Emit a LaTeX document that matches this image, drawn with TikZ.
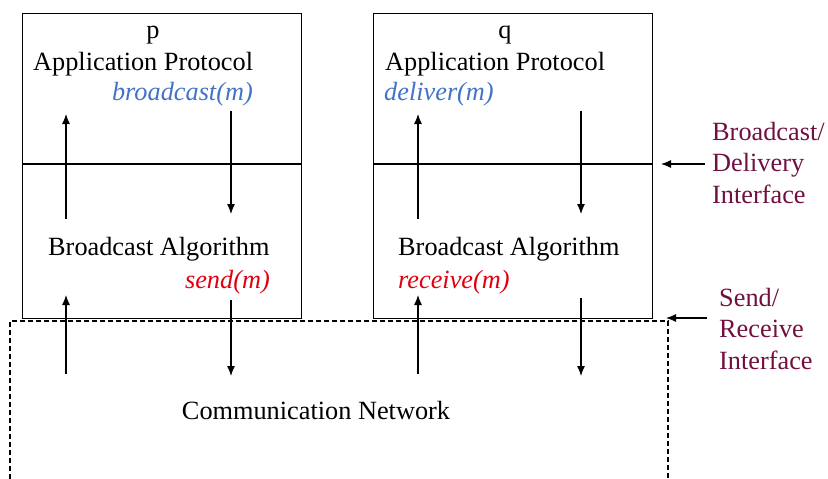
\documentclass[tikz,border=0pt]{standalone}
\usepackage{fontspec}
\setmainfont{Liberation Serif}
\usetikzlibrary{positioning,arrows.meta}

\definecolor{callblue}{RGB}{68,114,196}
\definecolor{callred}{RGB}{224,0,16}
\definecolor{ifmaroon}{RGB}{112,16,64}

\begin{document}
\fontsize{26.3}{31.5}\selectfont
\begin{tikzpicture}[x=1pt, y=-1pt,
    msg/.style={-{Latex[length=10pt,width=8pt]}, line width=1.2pt},
    proc/.style={rectangle, draw, line width=1.4pt, minimum width=279pt, minimum height=305pt, anchor=north west},
    lbl/.style={inner sep=0pt},
  ]
    \useasboundingbox (0,0) rectangle (828,479);

    %% process p
    \node[proc] (boxp) at (22,13) {};
    \draw[line width=1.2pt] (boxp.west |- 0,164) -- (boxp.east |- 0,164);

    \node[lbl, anchor=base] (namep) at (153,38) {p};
    \node[lbl, anchor=base west] (appp) at (33,70) {Application Protocol};
    \node[lbl, anchor=base east, text=callblue, font=\itshape] (bcastp) at (253,100) {broadcast(m)};
    \node[lbl, anchor=base west] (algp) at (48,255) {Broadcast Algorithm};
    \node[lbl, anchor=base east, text=callred, font=\itshape] (sendp) at (270,288) {send(m)};

    \coordinate (pupa) at (66,219);  \coordinate (pupb) at (66,114);
    \coordinate (pdna) at (231,111); \coordinate (pdnb) at (231,214);
    \coordinate (pupc) at (66,374);  \coordinate (pupd) at (66,295);
    \coordinate (pdnc) at (231,300); \coordinate (pdnd) at (231,376);

    \draw[msg] (pupa) -- (pupb);
    \draw[msg] (pdna) -- (pdnb);
    \draw[msg] (pupc) -- (pupd);
    \draw[msg] (pdnc) -- (pdnd);

    %% process q
    \node[proc] (boxq) at (373,13) {};
    \draw[line width=1.2pt] (boxq.west |- 0,164) -- (boxq.east |- 0,164);

    \node[lbl, anchor=base] (nameq) at (505,38) {q};
    \node[lbl, anchor=base west] (appq) at (385,70) {Application Protocol};
    \node[lbl, anchor=base west, text=callblue, font=\itshape] (deliverq) at (384,100) {deliver(m)};
    \node[lbl, anchor=base west] (algq) at (398,255) {Broadcast Algorithm};
    \node[lbl, anchor=base west, text=callred, font=\itshape] (recvq) at (398,288) {receive(m)};

    \coordinate (qupa) at (418,219); \coordinate (qupb) at (418,114);
    \coordinate (qdna) at (581,111); \coordinate (qdnb) at (581,214);
    \coordinate (qupc) at (418,374); \coordinate (qupd) at (418,295);
    \coordinate (qdnc) at (581,298); \coordinate (qdnd) at (581,376);

    \draw[msg] (qupa) -- (qupb);
    \draw[msg] (qdna) -- (qdnb);
    \draw[msg] (qupc) -- (qupd);
    \draw[msg] (qdnc) -- (qdnd);

    %% network
    \draw[line width=1.2pt, dash pattern=on 5pt off 3pt] (10,479) -- (10,321) -- (668,321) -- (668,479);
    \node[lbl, anchor=base] (net) at (316,419) {Communication Network};

    %% interfaces (base is the last line)
    \node[lbl, anchor=base west, align=left, text=ifmaroon] (ifbd) at (712,203) {Broadcast/\\Delivery\\Interface};
    \node[lbl, anchor=base west, align=left, text=ifmaroon] (ifsr) at (719,369) {Send/\\Receive\\Interface};

    \coordinate (bdtail) at (705,164); \coordinate (bdtip) at (661,164);
    \coordinate (srtail) at (707,318); \coordinate (srtip) at (666,318);
    \draw[msg] (bdtail) -- (bdtip);
    \draw[msg] (srtail) -- (srtip);

\end{tikzpicture}
\end{document}
